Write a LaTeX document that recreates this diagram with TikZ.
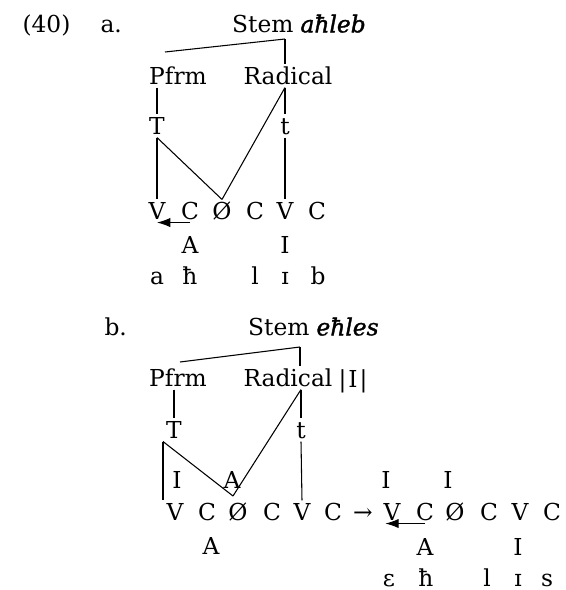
\documentclass[tikz,border=0pt]{standalone}
\usepackage{fontspec}
\setmainfont{DejaVu Serif}
\newfontfamily\formfont[FakeBold=1.5]{DejaVu Serif}
\usetikzlibrary{arrows.meta}

\begin{document}
\begin{tikzpicture}[x=0.75pt,y=-0.75pt,
  >={Latex[length=10pt,width=7pt]},
  every node/.style={font=\fontsize{17.5}{20}\selectfont},
  seg/.style={inner sep=2pt, text height=12.5pt, text depth=0pt},
  lab/.style={inner sep=0pt, text height=12.5pt, text depth=0pt},
  every path/.style={line width=0.8pt}]
\useasboundingbox (0,0) rectangle (565,590);

%%%%%%%% example (40a)
\node[lab, anchor=west] (exNum) at (22,24) {(40)};
\node[lab, anchor=west] (exA) at (100,24) {a.};
\node[lab, anchor=east] (stemA) at (294,24) {Stem};
\node[lab, anchor=west] (formA) at (300,24) {\formfont\itshape aħleb};
\coordinate (stemTopA) at (285,39);
\coordinate (pfrmTopA) at (165,52);

\node[seg] (pfrmA) at (178,76) {Pfrm};
\node[seg] (radA) at (288,76) {Radical};
\node[seg] (TA) at (157,126) {T};
\node[seg] (tA) at (285,126) {t};

%%%% skeleton
\foreach \n/\x/\s in {1/157/V,2/190/C,3/222/Ø,4/255/C,5/285/V,6/317/C}
  \node[seg] (skA\n) at (\x,211) {\s};
\node[seg] (melA1) at (190,245) {A};
\node[seg] (melA2) at (285,245) {I};
%%%% surface
\foreach \n/\x/\s in {1/157/a,2/190/ħ,3/255/l,4/285/ɪ,5/318/b}
  \node[seg] (sfA\n) at (\x,276) {\s};

%%%% branches
\draw (stemTopA) -- (pfrmTopA);
\draw (stemTopA) -- (stemTopA |- radA.north);
\draw (TA |- pfrmA.south) -- (TA.north);
\draw (radA.south -| tA) -- (tA.north);
\draw (radA.south -| tA) -- (skA3.north);
\draw (TA.south) -- (skA3.north);
\draw (TA.south) -- (skA1.north);
\draw (tA.south) -- (skA5.north);
\draw[->] (skA2.south) -- (skA1.south);

%%%%%%%% example (40b)
\node[lab, anchor=west] (exB) at (104,327) {b.};
\node[lab, anchor=east] (stemB) at (310,327) {Stem};
\node[lab, anchor=west] (formB) at (316,327) {\formfont\itshape eħles};
\coordinate (stemTopB) at (300,347);
\coordinate (pfrmTopB) at (180,362);

\node[seg] (pfrmB) at (178,378) {Pfrm};
\node[seg] (radB) at (288,378) {Radical};
\node[inner sep=0pt, anchor=base] (radIB) at (353,387) {|\kern1.5pt I\kern1.5pt|};
\node[seg] (TB) at (174,430) {T};
\node[seg] (tB) at (301,430) {t};
\coordinate (vtxB) at (233,496);

\node[seg] (floatB1) at (177,480) {I};
\node[seg] (floatB2) at (232,480) {A};

%%%% skeleton, input
\foreach \n/\x/\s in {1/175/V,2/207/C,3/238/Ø,4/272/C,5/302/V,6/333/C}
  \node[seg] (skB\n) at (\x,512) {\s};
\node[seg] (melB1) at (211,546) {A};
\node[seg] (mapsB) at (363,512) {→};

%%%% skeleton, output
\node[seg] (floatR1) at (386,480) {I};
\node[seg] (floatR2) at (448,480) {I};
\foreach \n/\x/\s in {1/392/V,2/425/C,3/455/Ø,4/489/C,5/520/V,6/552/C}
  \node[seg] (skR\n) at (\x,512) {\s};
\node[seg] (melR1) at (425,547) {A};
\node[seg] (melR2) at (518,547) {I};
\foreach \n/\x/\s in {1/389/ɛ,2/426/ħ,3/487/l,4/518/ɪ,5/547/s}
  \node[seg] (sfR\n) at (\x,578) {\s};

%%%% branches
\draw (stemTopB) -- (pfrmTopB);
\draw (stemTopB) -- (stemTopB |- radB.north);
\draw (TB |- pfrmB.south) -- (TB.north);
\draw (radB.south -| tB) -- (tB.north);
\draw (radB.south -| tB) -- (vtxB);
\draw (TB.south west) -- (vtxB);
\draw (TB.south west) -- (TB.south west |- skB1.north);
\draw (tB.south) -- (skB5.north);
\draw[->] (skR2.south) -- ([xshift=-5pt]skR1.south);

\end{tikzpicture}
\end{document}
